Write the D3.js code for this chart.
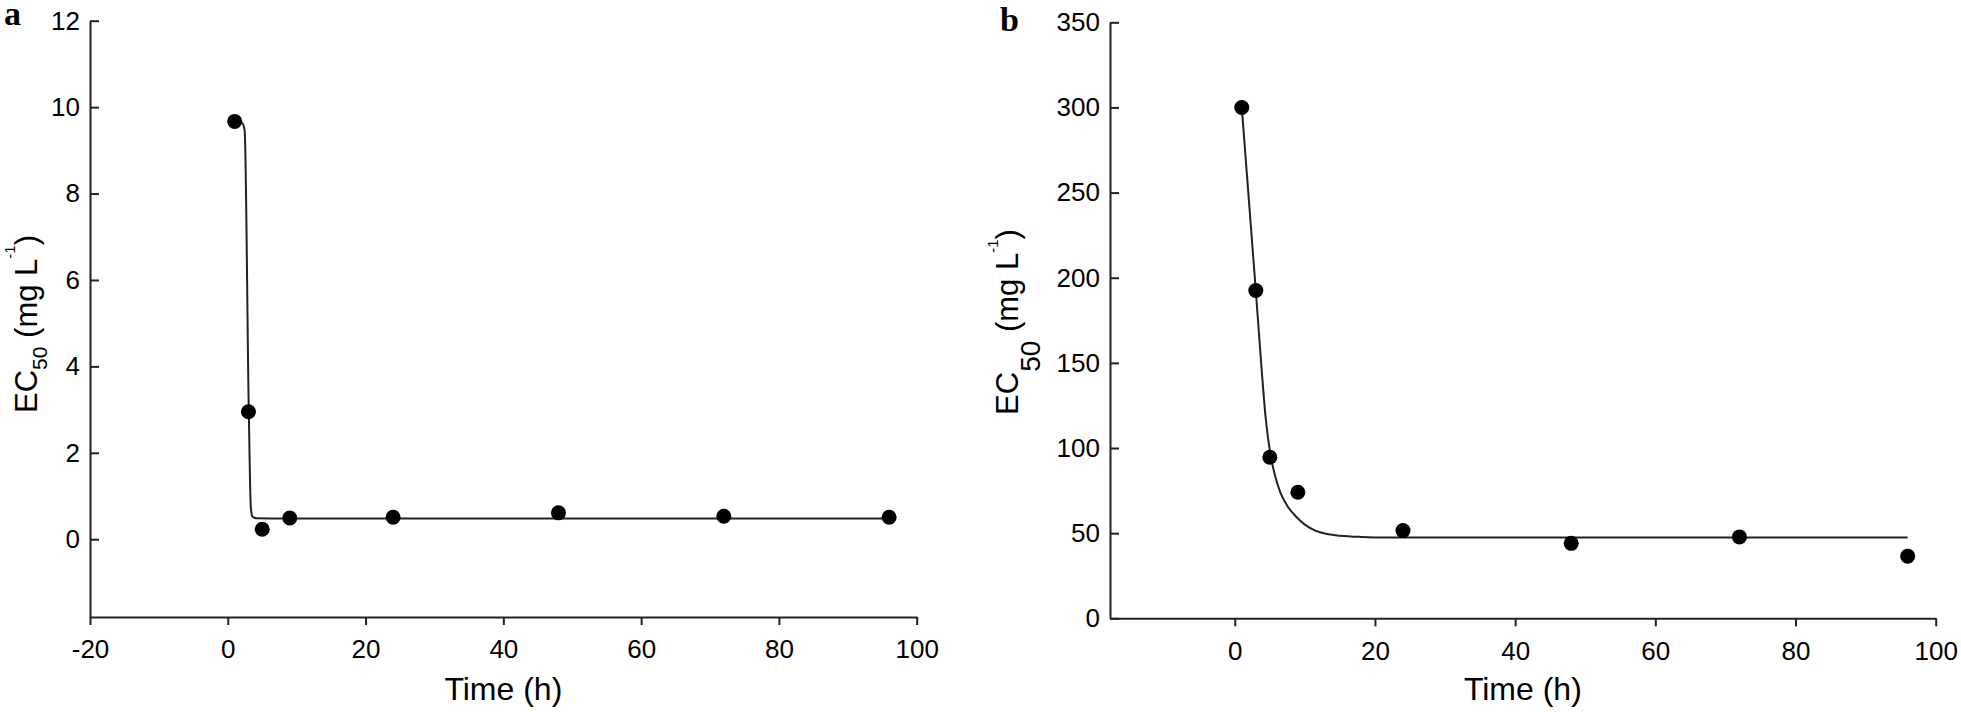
<!DOCTYPE html>
<html>
<head>
<meta charset="utf-8">
<script src="https://cdn.jsdelivr.net/npm/d3@7"></script>
<style>
  body { margin: 0; background: #fff; }
  text { font-family: 'Liberation Sans', Arial, sans-serif; }
</style>
</head>
<body>
<script>
// sampling times (h), same for both panels
var time_h = [1, 3, 5, 9, 24, 48, 72, 96]

// panel a measured EC50 (mg/L)
var ec50_a = [9.67, 2.95, 0.23, 0.49, 0.51, 0.61, 0.53, 0.51]
// panel a fitted curve
var fit_a_t = [1, 2.1, 2.45, 3.05, 3.35, 3.6, 4.2, 8, 96]
var fit_a_y = [9.67, 9.63, 9.45, 2.95, 0.72, 0.52, 0.485, 0.48, 0.48]

// panel b measured EC50 (mg/L)
var ec50_b = [300, 192.5, 94.6, 74, 51.5, 44, 47.8, 36.5]
// panel b fitted curve
var fit_b_t = [1, 3, 3.8, 4.4, 5.1, 5.8, 6.5, 7.5, 8.8, 10, 11.5, 13, 15, 18, 22, 30, 96]
var fit_b_y = [300, 192.5, 148, 118, 96, 83, 74, 66, 59.5, 55, 51.5, 49.6, 48.5, 47.8, 47.5, 47.5, 47.5]

// tick values
var xticks_a = [-20, 0, 20, 40, 60, 80, 100]
var yticks_a = [0, 2, 4, 6, 8, 10, 12]
var xticks_b = [0, 20, 40, 60, 80, 100]
var yticks_b = [0, 50, 100, 150, 200, 250, 300, 350]

function draw_panel(svg, cfg) {
    var g = svg.append('g').attr('class', 'panel')
    var ink = '#222'
    var fmt = d => String(d) // plain hyphen for -20, like the figure

    // x axis, ticks pointing out
    var xax = g.append('g').attr('transform', 'translate(0,' + cfg.y.range()[0] + ')')
        .call(d3.axisBottom(cfg.x).tickValues(cfg.xticks).tickSize(8).tickSizeOuter(0).tickPadding(15).tickFormat(fmt))
    // y axis, ticks pointing in
    var yax = g.append('g').attr('transform', 'translate(' + cfg.x.range()[0] + ',0)')
        .call(d3.axisLeft(cfg.y).tickValues(cfg.yticks).tickSize(-9).tickSizeOuter(0).tickPadding(10).tickFormat(fmt))

    ;[xax, yax].forEach(ax => {
        ax.select('.domain').attr('stroke', ink).attr('stroke-width', 2)
        ax.selectAll('.tick line').attr('stroke', ink).attr('stroke-width', 2)
        ax.selectAll('.tick text').attr('fill', '#000').style('font-size', '26px')
            .style('font-family', "'Liberation Sans', Arial, sans-serif")
    })

    // fitted curve
    var pts = cfg.fit_t.map((t, i) => [t, cfg.fit_y[i]])
    var line = d3.line().x(d => cfg.x(d[0])).y(d => cfg.y(d[1])).curve(d3.curveMonotoneX)
    g.append('path').attr('d', line(pts))
        .attr('fill', 'none').attr('stroke', ink).attr('stroke-width', 2)

    // data points
    g.selectAll('.dot').data(time_h.map((t, i) => [t, cfg.vals[i]])).enter()
        .append('circle').attr('class', 'dot')
        .attr('cx', d => cfg.x(d[0])).attr('cy', d => cfg.y(d[1]))
        .attr('r', 7.5).attr('fill', '#000')

    // x title
    g.append('text').attr('x', d3.mean(cfg.x.range())).attr('y', 700)
        .attr('text-anchor', 'middle').style('font-size', '32px').text('Time (h)')

    // y title with sub- and superscript
    var yt = g.append('text').attr('transform', 'translate(' + cfg.ytx + ',' + cfg.yty + ') rotate(-90)')
        .attr('text-anchor', 'middle').style('font-size', '31px')
    yt.append('tspan').text('EC')
    yt.append('tspan').attr('dy', cfg.sub_dy).style('font-size', cfg.sub_fs + 'px').text('50')
    yt.append('tspan').attr('dy', -cfg.sub_dy).text(' (mg L')
    yt.append('tspan').attr('dy', -cfg.sup_dy).style('font-size', '15px').text('-1')
    yt.append('tspan').attr('dy', cfg.sup_dy).text(')')

    // panel letter
    svg.append('text').attr('x', cfg.lx).attr('y', cfg.ly)
        .style('font-family', "'Liberation Serif', 'Times New Roman', serif")
        .style('font-weight', 'bold').style('font-size', '34px').text(cfg.letter)
}

function plot_it() {
    var svgWidth = 1961, svgHeight = 712
    var svg = d3.select('body').append('svg').attr('width', svgWidth).attr('height', svgHeight).attr('id', 'svg0')
    svg.append('rect').attr('width', svgWidth).attr('height', svgHeight).attr('fill', '#fff')

    var x_a = d3.scaleLinear().domain([-20, 100]).range([90, 916.7])
    var y_a = d3.scaleLinear().domain([-1.8, 12]).range([617, 20.7])
    draw_panel(svg, {x: x_a, y: y_a, xticks: xticks_a, yticks: yticks_a, vals: ec50_a,
        fit_t: fit_a_t, fit_y: fit_a_y, ytx: 37, yty: 324, sub_dy: 10, sub_fs: 21, sup_dy: 22,
        letter: 'a', lx: 4, ly: 25})

    var x_b = d3.scaleLinear().domain([-17.8, 100]).range([1110, 1935.7])
    var y_b = d3.scaleLinear().domain([0, 350]).range([618.3, 22.3])
    draw_panel(svg, {x: x_b, y: y_b, xticks: xticks_b, yticks: yticks_b, vals: ec50_b,
        fit_t: fit_b_t, fit_y: fit_b_y, ytx: 1018, yty: 322, sub_dy: 22, sub_fs: 28, sup_dy: 20,
        letter: 'b', lx: 1000, ly: 31})
}

plot_it()
</script>
</body>
</html>
